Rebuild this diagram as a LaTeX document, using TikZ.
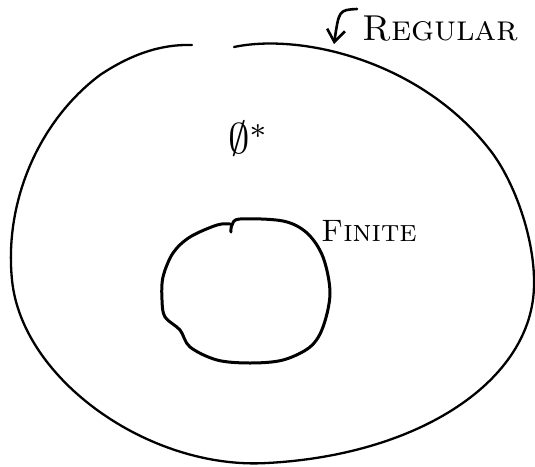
\documentclass[tikz,border=0pt]{standalone}
\usepackage{amsmath,amssymb,graphicx}
\usepackage{tikz}
\usetikzlibrary{
	arrows.meta,
	positioning
}
\definecolor{PenInk}{HTML}{000000}

\begin{document}
\begin{tikzpicture}[
 x=1pt,y=-1pt,
 pen/.style={draw=PenInk,line cap=round,line join=round},
 outerset/.style={pen,line width=2.3pt},
 innerset/.style={pen,line width=3pt},
 setlabel/.style={text=PenInk,inner sep=0pt,anchor=west},
 pointer/.style={pen,line width=2.6pt,-{Straight Barb[length=12pt,width=18pt,line width=2.6pt]}}
]
 \useasboundingbox (0,0) rectangle (535,466);
 % outer set, open at the top
 \draw[outerset] (234,47) .. controls (300,33) and (420,60) .. (490,150)
   .. controls (515,182) and (535,240) .. (534,285)
   .. controls (533,380) and (420,455) .. (267,463)
   .. controls (150,470) and (22,380) .. (12,280)
   .. controls (4,200) and (40,120) .. (100,75)
   .. controls (130,55) and (160,44) .. (192,45);
 \coordinate (rim) at (334,44);
 % inner set
 \draw[innerset] plot[smooth,tension=.55] coordinates {
   (231,232) (232,225) (240,219) (283,221) (307,233) (323,257)
   (330,293) (323,327) (310,347) (283,360) (250,363) (217,360)
   (190,347) (180,330) (165,317) (162,300) (163,277) (173,253)
   (190,237) (217,225) (230,224)};
 \node[setlabel] (regular) at (362,29) {\fontsize{36}{36}\selectfont\textsc{Regular}};
 \node[setlabel] (finite) at (321,231) {\fontsize{31}{31}\selectfont\textsc{Finite}};
 \node[inner sep=0pt] (empty) at (249,139) {\scalebox{4.3}{$\emptyset^{*}$}};
 \draw[pointer] (regular.west) ++(-5,-20) .. controls (339,10) .. (rim);
\end{tikzpicture}
\end{document}
